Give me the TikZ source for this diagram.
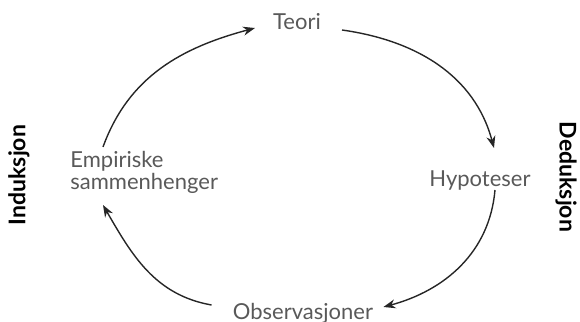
\documentclass[tikz,border=0pt]{standalone}
\usepackage{fontspec}
\setmainfont{Lato}
\usepackage{tikz}
\usetikzlibrary{arrows.meta, positioning}

\begin{document}
\begin{tikzpicture}[
    x=0.5pt, y=0.5pt,
    lbl/.style={inner sep=0pt, text=black!65, font=\fontsize{11}{11}\selectfont},
    side/.style={inner sep=0pt, font=\bfseries\fontsize{11.5}{12}\selectfont},
    arrow/.style={line width=0.7pt, black!85, -{Stealth[length=6pt, width=4.5pt]}}
]
\useasboundingbox (0,0) rectangle (580,322);

\node (teori) [lbl, anchor=base] at (297,292) {Teori};
\node (hyp) [lbl, anchor=base] at (480,135) {Hypoteser};
\node (obs) [lbl, anchor=base] at (303,2) {Observasjoner};
\node (emp) [lbl, align=left, anchor=base west] at (70,132) {Empiriske\\sammenhenger};
\node (ind) [side, rotate=90] at (19,147) {Induksjon};
\node (ded) [side, rotate=-90] at (566,145) {Deduksjon};

\draw [arrow] ([shift={(33,43)}]emp.base west) to[out=70, in=195] ([shift={(-42,2)}]teori.base);
\draw [arrow] ([shift={(45,0)}]teori.base) to[out=-8, in=105] ([shift={(14,39)}]hyp.base);
\draw [arrow] ([shift={(15,-3)}]hyp.base) to[out=-95, in=15] ([shift={(10,13)}]obs.base east);
\draw [arrow] ([shift={(-21,15)}]obs.base west) to[out=170, in=-60] ([shift={(33,-15)}]emp.base west);

\end{tikzpicture}
\end{document}
